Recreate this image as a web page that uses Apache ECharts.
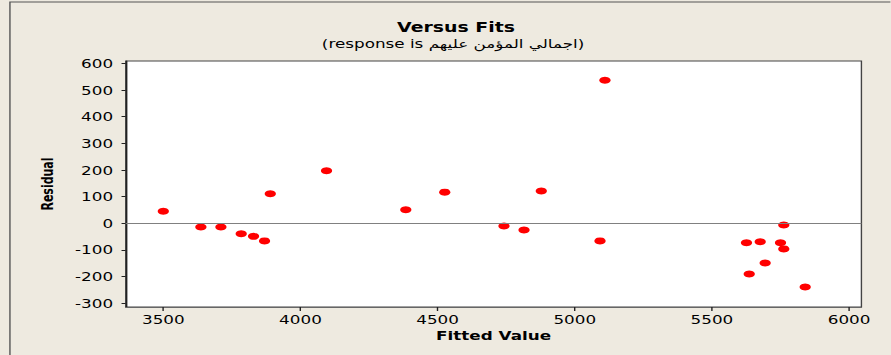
<!DOCTYPE html>
<html>
<head>
<meta charset="utf-8">
<script src="https://cdn.jsdelivr.net/npm/echarts@6/dist/echarts.min.js"></script>
<style>
html,body{margin:0;padding:0;background:#EEEAE0;overflow:hidden;width:891px;height:355px;}
#wrap{position:absolute;left:0;top:0;width:636.43px;height:355px;transform:scaleX(1.4);transform-origin:0 0;}
</style>
</head>
<body>
<div id="wrap"></div>
<script>
// Data (Fitted Value, Residual)
const fittedValues = [3500, 3637, 3710, 3784, 3829, 3869, 3890, 4095, 4384, 4526, 4742, 4815, 4878, 5092, 5110, 5626, 5636, 5676, 5694, 5750, 5762, 5762, 5840];
const residuals    = [45, -14, -14, -39, -49, -66, 111, 197, 51, 117, -10, -25, 121, -66, 537, -73, -190, -69, -149, -73, -6, -96, -239];
const xTicks = [3500, 4000, 4500, 5000, 5500, 6000];
const yTicks = [-300, -200, -100, 0, 100, 200, 300, 400, 500, 600];
const titleText = 'Versus Fits';
const subtitleText = '(response is اجمالي المؤمن عليهم\u200E)';
const xName = 'Fitted Value';
const yName = 'Residual';

const points = fittedValues.map((x, i) => [x, residuals[i]]);
const FONT = '"DejaVu Sans", Verdana, sans-serif';

const chart = echarts.init(document.getElementById('wrap'), null, {renderer: 'svg'});
chart.setOption({
  animation: false,
  backgroundColor: '#EEEAE0',
  graphic: [
    {type: 'rect', z: -10, silent: true, shape: {x: 7.1, y: 2, width: 700, height: 420},
     style: {fill: 'none', stroke: '#555', lineWidth: 1}},
    {type: 'text', x: 325.7, y: 27.8, silent: true,
     style: {text: titleText, fontFamily: FONT, fontSize: 13.5, fontWeight: 'bold', fill: '#000',
             align: 'center', verticalAlign: 'middle', textAlign: 'center', textVerticalAlign: 'middle'}},
    {type: 'text', x: 323.6, y: 43, silent: true,
     style: {text: subtitleText, fontFamily: FONT, fontSize: 12, fill: '#000',
             align: 'center', verticalAlign: 'middle', textAlign: 'center', textVerticalAlign: 'middle'}}
  ],
  grid: {left: 89.8, right: 20.7, top: 61, bottom: 48, show: true,
         backgroundColor: '#ffffff', borderColor: '#444', borderWidth: 1},
  xAxis: {
    type: 'value', min: 3363, max: 6045,
    name: xName, nameLocation: 'middle', nameGap: 21,
    nameTextStyle: {fontFamily: FONT, fontSize: 12, fontWeight: 'bold', color: '#000'},
    splitLine: {show: false},
    axisLine: {show: true, onZero: false, lineStyle: {color: '#666'}},
    axisTick: {show: true, length: 4, customValues: xTicks, lineStyle: {color: '#222'}},
    axisLabel: {customValues: xTicks, margin: 6, fontFamily: FONT, fontSize: 12, color: '#000',
                formatter: v => String(v)}
  },
  yAxis: {
    type: 'value', min: -314, max: 609,
    name: yName, nameLocation: 'middle', nameGap: 50,
    nameTextStyle: {fontFamily: FONT, fontSize: 11, fontWeight: 'bold', color: '#000'},
    splitLine: {show: false},
    axisLine: {show: true, onZero: false, lineStyle: {color: '#222'}},
    axisTick: {show: true, length: 3, customValues: yTicks, lineStyle: {color: '#222'}},
    axisLabel: {customValues: yTicks, margin: 9, fontFamily: FONT, fontSize: 12, color: '#000',
                formatter: v => String(v)}
  },
  series: [{
    type: 'scatter',
    data: points,
    symbol: 'circle',
    symbolSize: [8, 7],
    clip: false,
    itemStyle: {color: '#FF0000', opacity: 1},
    markLine: {
      silent: true, symbol: 'none', animation: false,
      label: {show: false},
      lineStyle: {color: '#808080', width: 1, type: 'solid'},
      data: [{yAxis: 0}]
    }
  }]
});
</script>
</body>
</html>
